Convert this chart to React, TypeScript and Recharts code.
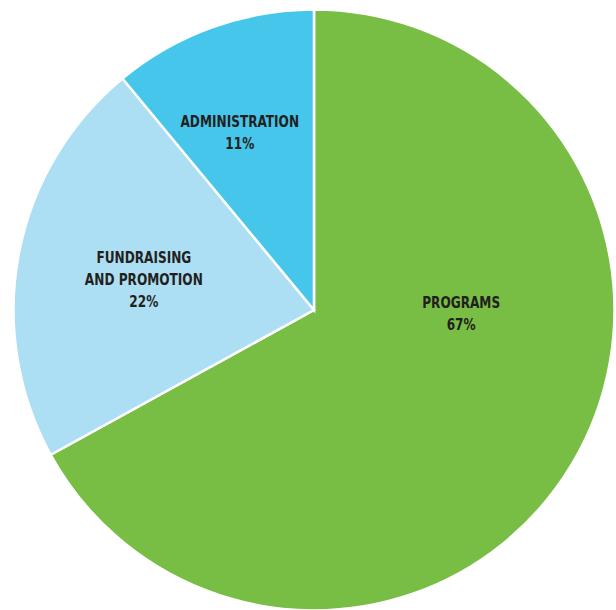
import { PieChart, Pie, Cell } from 'recharts';

const categories = ['PROGRAMS', 'FUNDRAISING\nAND PROMOTION', 'ADMINISTRATION'];
const shares = [67, 22, 11];
const colors = ['#78BE44', '#ADDFF4', '#47C6EC'];
// label placement per slice: angle (deg) and fraction of radius
const labelAngles = [-1.5, 170, 112.7];
const labelRadii = [0.49, 0.575, 0.64];

const data = categories.map((name, i) => ({ name, value: shares[i] }));

const RAD = Math.PI / 180;

function renderLabel(props: any) {
  const { cx, cy, outerRadius, index } = props;
  const r = outerRadius * labelRadii[index];
  const a = labelAngles[index] * RAD;
  const x = cx + r * Math.cos(a);
  const y = cy - r * Math.sin(a);
  const lines = [...categories[index].split('\n'), `${shares[index]}%`];
  const lh = 22;
  const top = y - ((lines.length - 1) * lh) / 2;
  return (
    <text
      key={`lbl-${index}`}
      x={x}
      y={top}
      textAnchor="middle"
      dominantBaseline="central"
      fill="#231F20"
      fontSize={15.5}
      fontWeight={700}
      fontFamily="'DejaVu Sans Condensed', sans-serif"
      transform={`translate(${x} 0) scale(0.87 1) translate(${-x} 0)`}
    >
      {lines.map((t, i) => (
        <tspan key={i} x={x} dy={i === 0 ? 0 : lh}>
          {t}
        </tspan>
      ))}
    </text>
  );
}

export default function App() {
  return (
    <div style={{ position: 'absolute', top: 0, left: 0, width: 616, height: 610, background: '#fff' }}>
      <PieChart width={616} height={610} margin={{ top: 0, right: 0, bottom: 0, left: 0 }}>
        <Pie
          data={data}
          dataKey="value"
          cx={314}
          cy={310}
          outerRadius={300.5}
          startAngle={90}
          endAngle={-270}
          stroke="#ffffff"
          strokeWidth={2.5}
          label={renderLabel}
          labelLine={false}
          isAnimationActive={false}
        >
          {data.map((d, i) => (
            <Cell key={`cell-${i}`} fill={colors[i]} />
          ))}
        </Pie>
      </PieChart>
    </div>
  );
}
